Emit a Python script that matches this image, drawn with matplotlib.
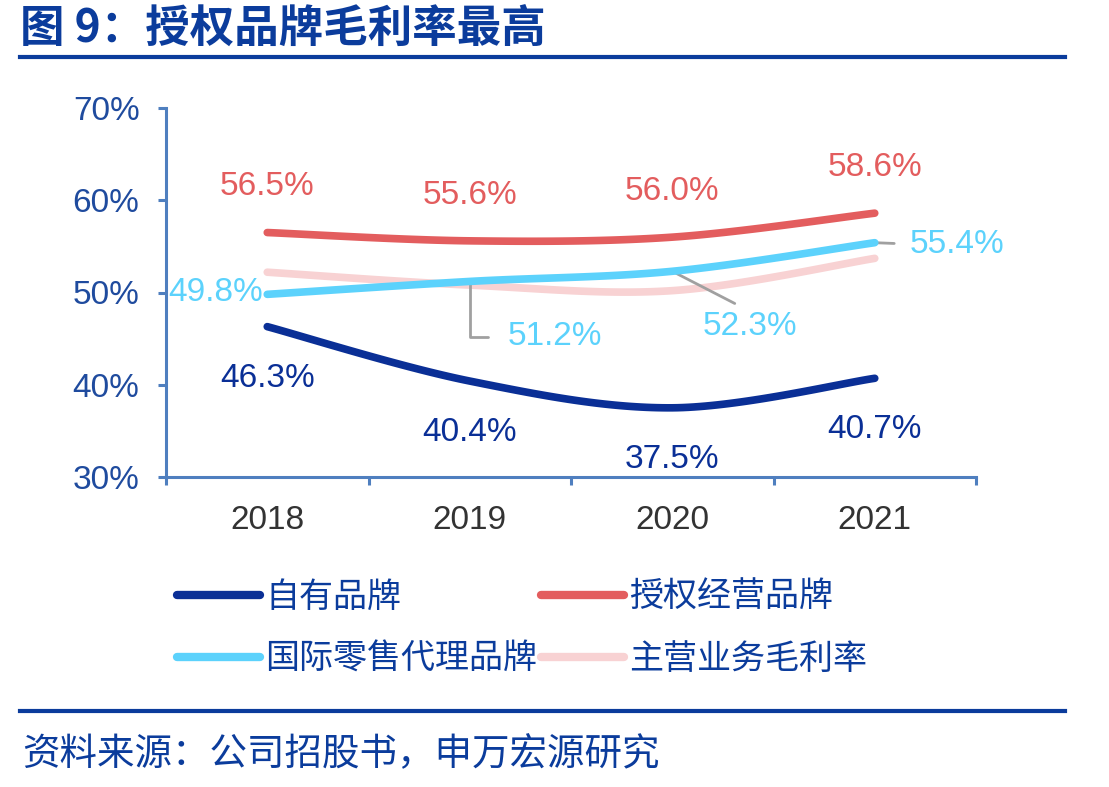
import numpy as np
import matplotlib
matplotlib.use('Agg')
import matplotlib.pyplot as plt
from matplotlib.lines import Line2D

plt.rcParams['font.family'] = ['Liberation Sans', 'Noto Sans CJK SC']

# data
years = ['2018', '2019', '2020', '2021']
own_brand = [46.3, 40.4, 37.5, 40.7]
licensed = [56.5, 55.6, 56.0, 58.6]
intl_agency = [49.8, 51.2, 52.3, 55.4]
overall = [52.2, 50.8, 50.2, 53.7]
names = ['自有品牌', '授权经营品牌', '国际零售代理品牌', '主营业务毛利率']
colors = ['#0A2F96', '#E35D5E', '#5CD2FC', '#F8D2D3']

title = '图 9：授权品牌毛利率最高'
source = '资料来源：公司招股书，申万宏源研究'

navy = '#0B3C9C'
axis_blue = '#4F7FBF'
text_blue = '#1F4B9E'
gray = '#A0A0A0'


def smooth(y, n=40):
    # Excel-like smoothed line: cubic bezier through points (Catmull-Rom handles)
    x = np.arange(len(y), dtype=float)
    P = np.column_stack([x, np.asarray(y, float)])
    ext = np.vstack([P[0], P, P[-1]])
    t = np.linspace(0, 1, n)[:, None]
    out = []
    for i in range(len(P) - 1):
        p0, p3 = P[i], P[i + 1]
        p1 = p0 + (ext[i + 2] - ext[i]) / 6
        p2 = p3 - (ext[i + 3] - ext[i + 1]) / 6
        out.append((1 - t) ** 3 * p0 + 3 * (1 - t) ** 2 * t * p1
                   + 3 * (1 - t) * t ** 2 * p2 + t ** 3 * p3)
    return np.vstack(out)


fig = plt.figure(figsize=(11.09, 7.87), dpi=100)
ax = fig.add_axes([166 / 1109, 1 - 477 / 787, 810 / 1109, 369 / 787])

series = [own_brand, licensed, intl_agency, overall]
zorders = [4, 4, 4, 3]
handles = []
for vals, c, nm, z in zip(series, colors, names, zorders):
    s = smooth(vals)
    h, = ax.plot(s[:, 0], s[:, 1], color=c, lw=5.5, solid_capstyle='round', label=nm, zorder=z)
    handles.append(h)

ax.set_xlim(-0.5, 3.5)
ax.set_ylim(30, 70)

# spines
for side in ['top', 'right']:
    ax.spines[side].set_visible(False)
for side in ['left', 'bottom']:
    ax.spines[side].set_color(axis_blue)
    ax.spines[side].set_linewidth(2.2)

ax.set_yticks([30, 40, 50, 60, 70])
ax.set_yticklabels([f'{v}%' for v in [30, 40, 50, 60, 70]])
ax.tick_params(axis='y', length=6, width=2.2, color=axis_blue, pad=13,
               labelsize=24, labelcolor=text_blue)
ax.set_xticks(np.arange(-0.5, 4, 1))
ax.set_xticklabels([])
ax.tick_params(axis='x', which='major', length=6, width=2.2, color=axis_blue)
ax.set_xticks(range(len(years)), minor=True)
ax.set_xticklabels(years, minor=True)
ax.tick_params(axis='x', which='minor', length=0, pad=20, labelsize=24, labelcolor='#333333')

# value labels
fs = 24
lbl = dict(fontsize=fs, ha='center', va='center', textcoords='offset points')
for i, v in enumerate(own_brand):
    ax.annotate(f'{v}%', (i, v), xytext=(0, -37), color=colors[0], **lbl)
for i, v in enumerate(licensed):
    ax.annotate(f'{v}%', (i, v), xytext=(0, 33), color=colors[1], **lbl)

lb = colors[2]
ax.annotate(f'{intl_agency[0]}%', (0, intl_agency[0]), xytext=(-3, 1),
            textcoords='offset points', fontsize=fs, ha='right', va='center', color=lb)
ax.annotate(f'{intl_agency[1]}%', (1, intl_agency[1]), xytext=(27, -40),
            textcoords='offset points', fontsize=fs, ha='left', va='center', color=lb,
            arrowprops=dict(arrowstyle='-', color=gray, lw=2, relpos=(0, 0.5),
                            connectionstyle='angle,angleA=0,angleB=90,rad=0',
                            shrinkA=12, shrinkB=0))
ax.annotate(f'{intl_agency[2]}%', (2, intl_agency[2]), xytext=(56, -40),
            textcoords='offset points', fontsize=fs, ha='center', va='center', color=lb,
            arrowprops=dict(arrowstyle='-', color=gray, lw=2, relpos=(0.5, 1),
                            shrinkA=8, shrinkB=0))
ax.annotate(f'{intl_agency[3]}%', (3, intl_agency[3]), xytext=(25, -1),
            textcoords='offset points', fontsize=fs, ha='left', va='center', color=lb,
            arrowprops=dict(arrowstyle='-', color=gray, lw=2, relpos=(0, 0.5),
                            shrinkA=9, shrinkB=0))

# legend: column-major fill, so reorder to get rows (own, licensed) / (intl, overall)
order = [0, 2, 1, 3]
leg = fig.legend([handles[i] for i in order], [names[i] for i in order],
                 loc='upper left', bbox_to_anchor=(160 / 1109, 1 - 563 / 787), ncol=2,
                 frameon=False, handlelength=2.45, handletextpad=0.15,
                 columnspacing=0.1, labelspacing=0.78, borderpad=0,
                 prop={'family': ['Noto Sans CJK SC'], 'size': 24.5})
for t in leg.get_texts():
    t.set_color(navy)
for h in leg.get_lines():
    h.set_linewidth(6)

# title, rules and source
fig.text(20 / 1109, 1 - 30 / 787, title, fontsize=32, fontweight='bold', color=navy,
         va='center', ha='left', family=['Noto Sans CJK SC'])
fig.add_artist(Line2D([20 / 1109, 1065 / 1109], [1 - 57 / 787] * 2, lw=3, color=navy))
fig.add_artist(Line2D([20 / 1109, 1065 / 1109], [1 - 711 / 787] * 2, lw=3, color=navy))
fig.text(22 / 1109, 1 - 755 / 787, source, fontsize=27, color=navy,
         va='center', ha='left', family=['Noto Sans CJK SC'])

fig.savefig('out.png', dpi=100)
